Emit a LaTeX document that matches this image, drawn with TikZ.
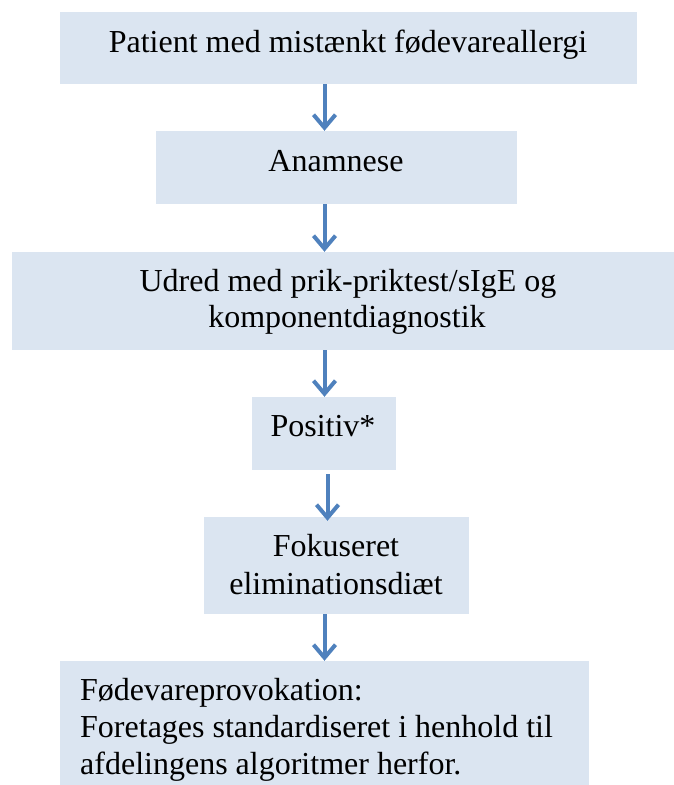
\documentclass[tikz,border=0pt]{standalone}
\usepackage{fontspec}
\setmainfont{Liberation Serif}
\usetikzlibrary{arrows.meta}
\definecolor{boxfill}{HTML}{DBE5F1}
\definecolor{arrowblue}{HTML}{4F81BD}
\tikzset{
  box/.style={fill=boxfill, draw=none, inner sep=0pt, rectangle},
  txt/.style={inner sep=0pt, font=\fontsize{32pt}{38pt}\selectfont, text=black},
  flow/.style={draw=arrowblue, line width=4pt, -{Straight Barb[length=13pt,width=22pt]}}
}
\begin{document}
\begin{tikzpicture}[x=1pt,y=-1pt]
\useasboundingbox (0,0) rectangle (674,785);
% boxes
\node[box, minimum width=577pt, minimum height=72pt] (b1) at (348.5,48) {};
\node[box, minimum width=361pt, minimum height=73pt] (b2) at (336.5,167.5) {};
\node[box, minimum width=662pt, minimum height=98pt] (b3) at (343,301) {};
\node[box, minimum width=144pt, minimum height=73pt] (b4) at (324,433.5) {};
\node[box, minimum width=265pt, minimum height=97pt] (b5) at (336.5,565.5) {};
\node[box, minimum width=529pt, minimum height=124pt] (b6) at (324.5,723) {};
% texts
\node[txt, anchor=base] (t1) at (348,52) {Patient med mistænkt fødevareallergi};
\node[txt, anchor=base] (t2) at (336,171.5) {Anamnese};
\node[txt, anchor=base] (t3a) at (348,291.5) {Udred med prik-priktest/sIgE og};
\node[txt, anchor=base] (t3b) at (347,327) {komponentdiagnostik};
\node[txt, anchor=base] (t4) at (323,436.5) {Positiv*};
\node[txt, anchor=base] (t5a) at (336,556.5) {Fokuseret};
\node[txt, anchor=base] (t5b) at (336,594) {eliminationsdiæt};
\node[txt, anchor=base west] (t6a) at (80,700) {Fødevareprovokation:};
\node[txt, anchor=base west] (t6b) at (80,737) {Foretages standardiseret i henhold til};
\node[txt, anchor=base west] (t6c) at (80,774) {afdelingens algoritmer herfor.};
% arrow axes
\coordinate (ax) at (324.5,0);
\coordinate (bx) at (327.5,0);
% arrows
\draw[flow] (b1.south -| ax) -- (b2.north -| ax);
\draw[flow] (b2.south -| ax) -- (b3.north -| ax);
\draw[flow] (b3.south -| ax) -- (b4.north -| ax);
\draw[flow] ([yshift=-4pt]b4.south -| bx) -- ([yshift=-4pt]b5.north -| bx);
\draw[flow] (b5.south -| ax) -- (b6.north -| ax);
\end{tikzpicture}
\end{document}
